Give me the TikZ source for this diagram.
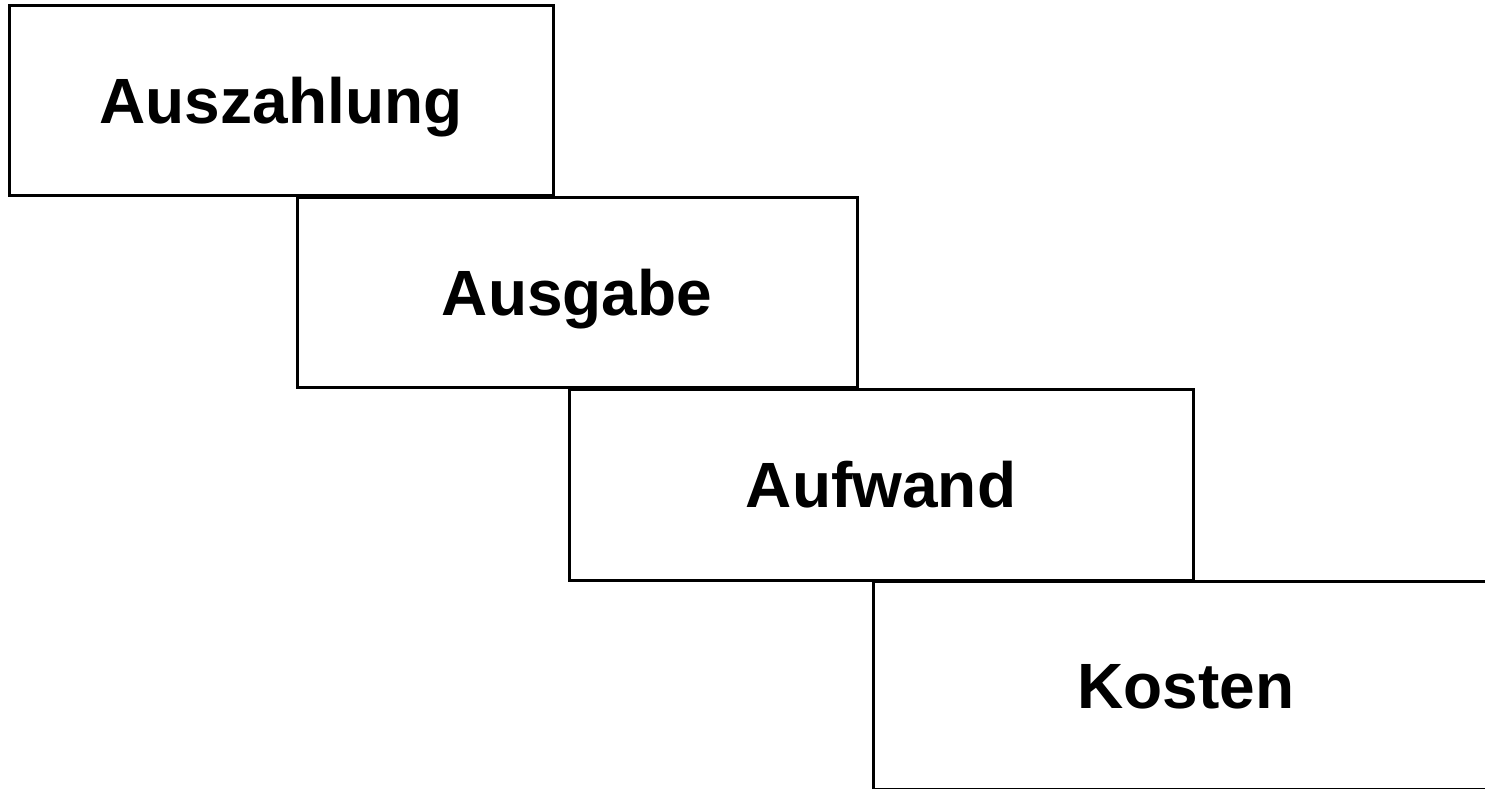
\documentclass[tikz,border=0pt]{standalone}
\usepackage{fontspec}
\setmainfont{Liberation Sans}
\begin{document}
\begin{tikzpicture}[x=1pt,y=-1pt,
  stufe/.style={draw=black,line width=3pt,fill=white,inner sep=0pt,
    text height=46pt,text depth=0pt,
    font=\fontsize{64}{68}\selectfont\bfseries}]
\useasboundingbox (0,0) rectangle (1485,788);
\clip (0,0) rectangle (1485,788);
\node[stufe,minimum width=544pt,minimum height=190pt] (a) at (281,100) {Auszahlung};
\node[stufe,minimum width=560pt,minimum height=190pt] (b) at (577,292) {Ausgabe};
\node[stufe,minimum width=624pt,minimum height=191pt] (c) at (881,484.5) {Aufwand};
\node[stufe,minimum width=626pt,minimum height=208pt] (d) at (1186,685) {Kosten};
\end{tikzpicture}
\end{document}
